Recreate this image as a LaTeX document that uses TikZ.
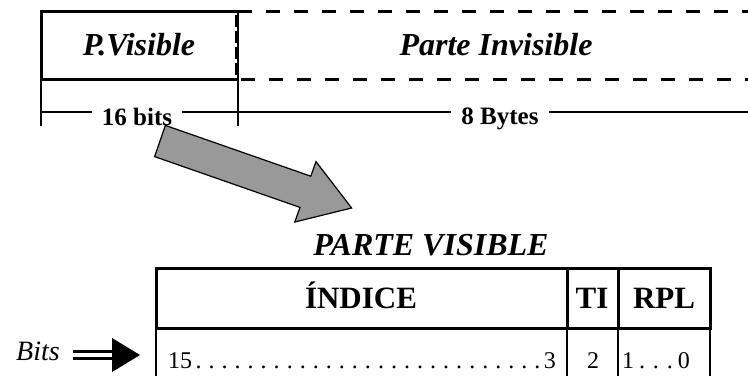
\documentclass[tikz,border=0pt]{standalone}
\usepackage{fontspec}
\setmainfont{Liberation Serif}
\usepackage{tikz}
\usetikzlibrary{positioning}

\definecolor{arrowgray}{RGB}{153,153,153}
\newcommand{\dotrow}[4]{\makebox[#1]{#3\xleaders\hbox to #2{\hss.\hss}\hfill#4}}

\begin{document}
\begin{tikzpicture}[x=1pt, y=-1pt,
		thickline/.style={line width=3pt},
		dashline/.style={line width=3pt, dash pattern=on 14pt off 14pt},
		thinline/.style={line width=1.3pt},
		sizelabel/.style={font=\fontsize{25}{30}\selectfont\bfseries, fill=white, inner xsep=10pt, inner ysep=2pt, anchor=base},
		title/.style={font=\fontsize{32}{38}\selectfont\bfseries\itshape, anchor=base},
		headcell/.style={font=\fontsize{31}{36}\selectfont\bfseries, anchor=base},
		bitcell/.style={font=\fontsize{24}{28}\selectfont, inner sep=0pt, anchor=base}]
				\useasboundingbox (0,0) rectangle (748,376);

				% descriptor: visible and invisible part
				\draw[thickline] (238,11) -- (41,11) -- (41,79) -- (238,79);
				\draw[dashline] (238,11) -- (748,11);
				\draw[dashline, dash phase=-3pt] (238,79) -- (748,79);
				\draw[line width=2.5pt, dash pattern=on 12pt off 4pt] (236.5,15) -- (236.5,76);
				\node[title] (pvis) at (139,55) {P.Visible};
				\node[title] (pinv) at (496,55) {Parte Invisible};

				\draw[thinline] (41,79) -- (41,126);
				\draw[thinline] (238,11) -- (238,126);
				\draw[thinline] (41,112) -- (748,112);
				\node[sizelabel] (bits16) at (137,125) {16 bits};
				\node[sizelabel] (bytes8) at (500,124) {8 Bytes};

				\draw[fill=arrowgray, line width=1.2pt] (165.4,125.4) -- (310.8,176.2) -- (316,161.6) -- (351.6,208)
					-- (294.8,222) -- (300,207.4) -- (154.6,156.6) -- cycle;

				% visible part (selector)
				\node[title] (pvtitle) at (431,255) {PARTE VISIBLE};
				\draw[thinline] (156,328) -- (156,376);
				\draw[thinline] (567,328) -- (567,376);
				\draw[thinline] (618,328) -- (618,376);
				\draw[thinline] (710,328) -- (710,376);
				\draw[thickline] (156,268) rectangle (710,328);
				\draw[thickline] (567,268) -- (567,328);
				\draw[thickline] (618,268) -- (618,328);
				\node[headcell] (indice) at (361,308) {ÍNDICE};
				\node[headcell] (ti) at (592,308) {TI};
				\node[headcell] (rpl) at (664,308) {RPL};
				\node[bitcell] (indicebits) at (362,368) {\dotrow{388pt}{13pt}{15}{3}};
				\node[bitcell] (tibits) at (593,368) {2};
				\node[bitcell] (rplbits) at (656,368) {\dotrow{68pt}{11.5pt}{1}{0}};

				\node[font=\fontsize{28}{32}\selectfont\itshape, anchor=base] (bitslbl) at (38,360) {Bits};
				\coordinate (bitstip) at (140,355);
				\draw[line width=3pt, double distance=4pt, shorten >=24pt] (73,355) -- (bitstip);
				\fill (bitstip) -- ++(-28,-17) -- ++(0,34) -- cycle;

			\end{tikzpicture}
\end{document}
